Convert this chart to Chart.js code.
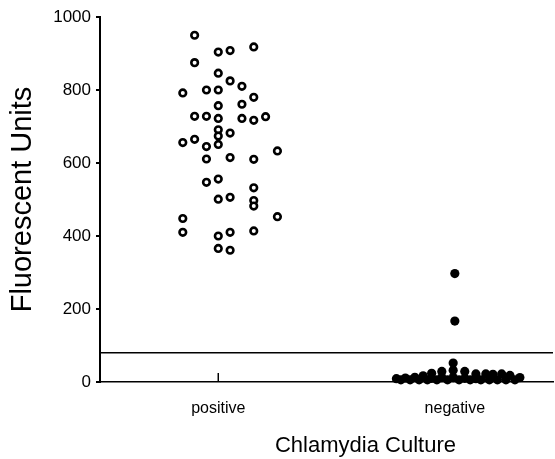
<!DOCTYPE html>
<html>
<head>
<meta charset="utf-8">
<script src="https://cdn.jsdelivr.net/npm/chart.js@4.4.1/dist/chart.umd.min.js"></script>
<style>
  html, body { margin: 0; padding: 0; background: #fff; }
  #wrap { width: 555px; height: 459px; }
</style>
</head>
<body>
<div id="wrap"><canvas id="chart" width="555" height="459"></canvas></div>
<script>
  const categories = ["positive", "negative"];
  const yTicks = [0, 200, 400, 600, 800, 1000];
  const cutoff = 80;
  const xMin = 0.5;
  const xMax = 2.415;

  // positive cultures: value and column (column step = 0.05 on the x scale)
  const positiveValues = [
    950, 904, 908, 918, 875, 846, 825, 810, 792, 800,
    800, 780, 757, 761, 728, 728, 722, 722, 717, 727,
    691, 682, 674, 665, 656, 645, 651, 633, 611, 615,
    610, 547, 556, 532, 501, 506, 497, 482, 448, 453,
    410, 400, 410, 414, 366, 361,
  ];
  const positiveColumns = [
    -2, 0, 1, 3, -2, 0, 1, 2, -3, -1,
    0, 3, 0, 2, -2, -1, 0, 2, 3, 4,
    0, 1, 0, -2, -3, -1, 0, 5, -1, 1,
    3, -1, 0, 3, 0, 1, 3, 3, -3, 5,
    -3, 0, 1, 3, 0, 1,
  ];

  // negative cultures: value and x offset from the category
  const negativeValues = [
    297, 167,
    9, 11, 13, 17, 24, 10, 29, 12, 52, 32, 12,
    29, 10, 22, 9, 22, 21, 22, 18, 12,
    6, 6, 6, 6, 6, 6, 6, 6, 6, 6, 6, 6, 6,
  ];
  const negativeOffsets = [
    0, 0,
    -0.247, -0.209, -0.169, -0.134, -0.098, -0.098, -0.055, -0.055, -0.007, -0.007, -0.007,
    0.042, 0.042, 0.089, 0.089, 0.131, 0.161, 0.198, 0.233, 0.275,
    -0.228, -0.189, -0.151, -0.116, -0.076, -0.031, 0.018, 0.065, 0.11, 0.146, 0.18, 0.216, 0.254,
  ];

  const FONT = "'Liberation Sans', Arial, Helvetica, sans-serif";
  Chart.defaults.font.family = FONT;
  Chart.defaults.color = "#000";

  const positivePoints = positiveValues.map((v, i) => ({ x: 1 + positiveColumns[i] * 0.05, y: v }));
  const negativePoints = negativeValues.map((v, i) => ({ x: 2 + negativeOffsets[i], y: v }));

  // inward tick marks on the x axis and the offset x axis title
  const extras = {
    id: "extras",
    afterDraw(chart) {
      const ctx = chart.ctx;
      const xs = chart.scales.x;
      const area = chart.chartArea;
      ctx.save();
      ctx.strokeStyle = "#000";
      ctx.lineWidth = 1.5;
      [1, 2].forEach((v) => {
        const px = xs.getPixelForValue(v);
        ctx.beginPath();
        ctx.moveTo(px, area.bottom);
        ctx.lineTo(px, area.bottom - 9);
        ctx.stroke();
      });
      ctx.fillStyle = "#000";
      ctx.font = "22px " + FONT;
      ctx.textAlign = "center";
      ctx.textBaseline = "alphabetic";
      ctx.fillText("Chlamydia Culture", area.left + (area.right - area.left) * 0.586, 452);
      ctx.restore();
    },
  };

  new Chart(document.getElementById("chart"), {
    type: "scatter",
    data: {
      datasets: [
        {
          label: "positive",
          data: positivePoints,
          pointRadius: 3.3,
          pointHoverRadius: 3.3,
          borderWidth: 2.6,
          borderColor: "#000",
          backgroundColor: "#fff",
          clip: false,
        },
        {
          label: "negative",
          data: negativePoints,
          pointRadius: 4.6,
          pointHoverRadius: 4.6,
          borderWidth: 0,
          backgroundColor: "#000",
          clip: false,
        },
        {
          type: "line",
          label: "cutoff",
          data: [{ x: xMin, y: cutoff }, { x: xMax, y: cutoff }],
          borderColor: "#000",
          borderWidth: 1.5,
          pointRadius: 0,
          fill: false,
        },
      ],
    },
    options: {
      responsive: false,
      animation: false,
      devicePixelRatio: 1,
      layout: { autoPadding: false, padding: { top: 17, right: 2, left: 0, bottom: 0 } },
      plugins: { legend: { display: false }, tooltip: { enabled: false } },
      scales: {
        x: {
          type: "linear",
          min: xMin,
          max: xMax,
          afterBuildTicks: (scale) => {
            scale.ticks = [{ value: 1 }, { value: 2 }];
          },
          afterFit: (scale) => {
            scale.height = 77;
          },
          ticks: {
            callback: (value) => categories[value - 1],
            font: { size: 16 },
            color: "#000",
            padding: 17,
            maxRotation: 0,
          },
          grid: { drawOnChartArea: false, drawTicks: false },
          border: { display: true, color: "#000", width: 1.5 },
        },
        y: {
          min: 0,
          max: 1000,
          afterBuildTicks: (scale) => {
            scale.ticks = yTicks.map((v) => ({ value: v }));
          },
          afterFit: (scale) => {
            scale.width = 100;
          },
          ticks: { font: { size: 17 }, color: "#000", padding: 5, callback: (value) => String(value) },
          grid: { drawOnChartArea: false, drawTicks: true, tickLength: 4, color: "#000", lineWidth: 2 },
          border: { display: true, color: "#000", width: 2 },
          title: {
            display: true,
            text: "Fluorescent Units",
            font: { size: 29 },
            color: "#000",
            padding: { top: 6, bottom: 0 },
          },
        },
      },
    },
    plugins: [extras],
  });
</script>
</body>
</html>
